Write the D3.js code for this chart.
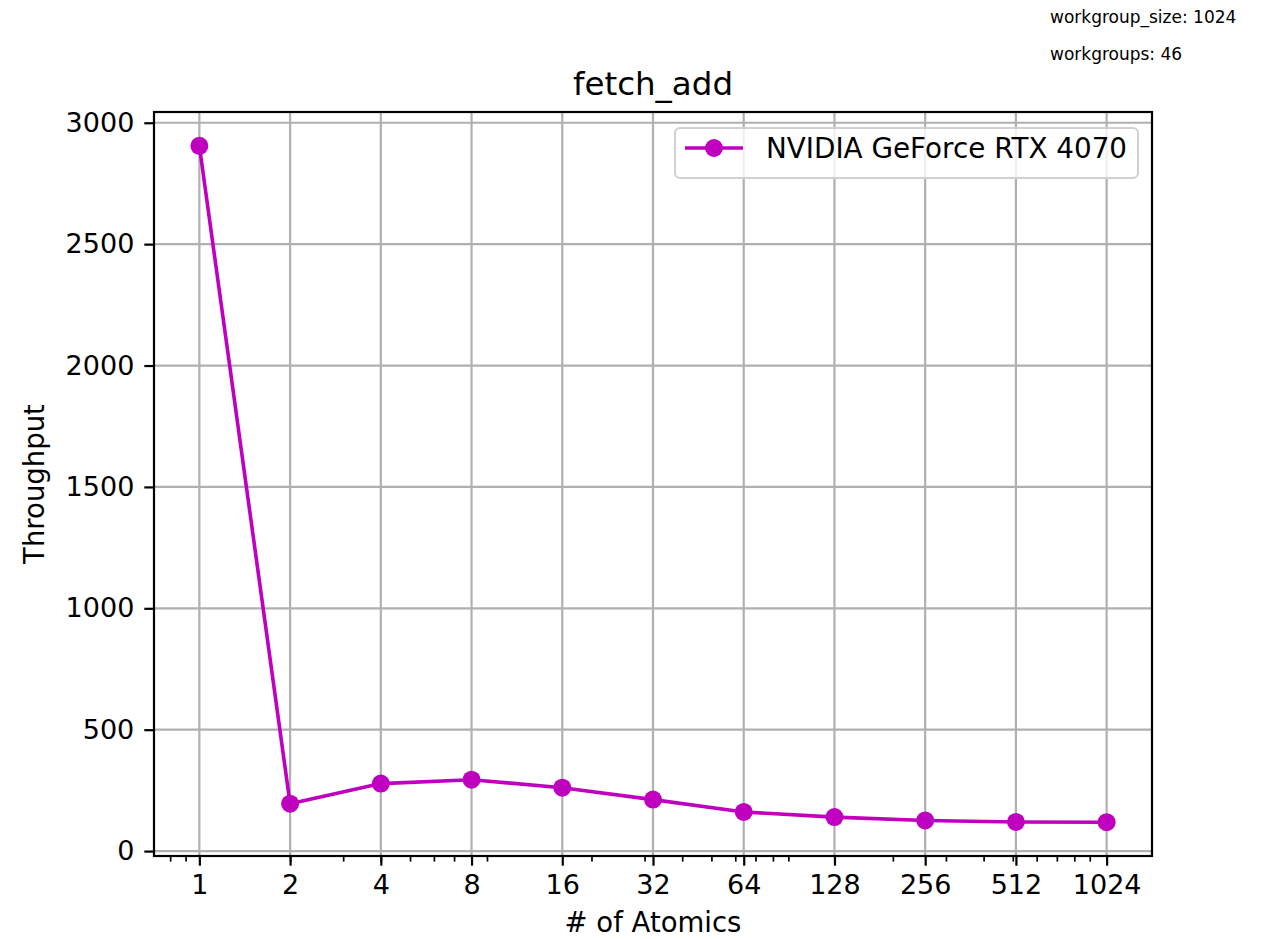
<!DOCTYPE html>
<html>
<head>
<meta charset="utf-8">
<script src="https://cdn.jsdelivr.net/npm/d3@7"></script>
<style>
  html, body { margin: 0; padding: 0; background: #ffffff; }
  svg { display: block; font-family: "DejaVu Sans", sans-serif; }
</style>
</head>
<body>
<svg id="chart" width="1286" height="939"></svg>
<script>
// Throughput of fetch_add vs. number of atomics
const atomics = [1, 2, 4, 8, 16, 32, 64, 128, 256, 512, 1024];
const throughput = [2905, 195, 278, 294, 261, 212, 161, 140, 126, 120, 119];
const yTicks = [0, 500, 1000, 1500, 2000, 2500, 3000];
const xTickLabels = ["1", "2", "4", "8", "16", "32", "64", "128", "256", "512", "1024"];
const seriesName = "NVIDIA GeForce RTX 4070";
const chartTitle = "fetch_add";
const xTitle = "# of Atomics";
const yTitle = "Throughput";
const infoLines = ["workgroup_size: 1024", "workgroups: 46"];

const color = "#bf00bf";
const frame = { left: 154, right: 1152, top: 112, bottom: 856 };
const markerR = 9;

const svg = d3.select("#chart");

// log2 x scale with 5% padding (in log space) on both ends
const lx0 = Math.log2(d3.min(atomics)), lx1 = Math.log2(d3.max(atomics));
const lpad = (lx1 - lx0) * 0.05;
const x = d3.scaleLog().base(2)
  .domain([Math.pow(2, lx0 - lpad), Math.pow(2, lx1 + lpad)])
  .range([frame.left, frame.right]);

// linear y scale with 5% padding
const yMin = d3.min(throughput), yMax = d3.max(throughput);
const ypad = (yMax - yMin) * 0.05;
const y = d3.scaleLinear()
  .domain([yMin - ypad, yMax + ypad])
  .range([frame.bottom, frame.top]);

// minor ticks at 2..9 x 10^k inside the domain
const [d0, d1] = x.domain();
const minorTicks = [];
for (let k = -1; k <= 3; k++) {
  for (let m = 2; m <= 9; m++) {
    const v = m * Math.pow(10, k);
    if (v >= d0 && v <= d1) minorTicks.push(v);
  }
}

// grid
const grid = svg.append("g").attr("stroke", "#b0b0b0").attr("stroke-width", 2.2);
grid.selectAll("line.gx").data(atomics).join("line")
  .attr("x1", d => x(d)).attr("x2", d => x(d))
  .attr("y1", frame.top).attr("y2", frame.bottom);
grid.selectAll("line.gy").data(yTicks).join("line")
  .attr("x1", frame.left).attr("x2", frame.right)
  .attr("y1", d => y(d)).attr("y2", d => y(d));

// x axis (bottom) with major and minor ticks
const xAxis = d3.axisBottom(x)
  .tickValues(atomics)
  .tickFormat((d, i) => xTickLabels[i])
  .tickSize(9.7).tickPadding(9);
const gx = svg.append("g").attr("transform", `translate(0,${frame.bottom})`).call(xAxis);
gx.select(".domain").remove();
gx.selectAll(".tick line").attr("stroke", "#000").attr("stroke-width", 2.2);
gx.selectAll(".tick text")
  .attr("font-size", 27).attr("fill", "#000").attr("font-family", "DejaVu Sans");

const xMinor = d3.axisBottom(x).tickValues(minorTicks).tickFormat("").tickSize(5.6);
const gxm = svg.append("g").attr("transform", `translate(0,${frame.bottom})`).call(xMinor);
gxm.select(".domain").remove();
gxm.selectAll(".tick line").attr("stroke", "#000").attr("stroke-width", 1.7);

// y axis (left)
const yAxis = d3.axisLeft(y).tickValues(yTicks).tickFormat(d3.format("d"))
  .tickSize(9.7).tickPadding(10);
const gy = svg.append("g").attr("transform", `translate(${frame.left},0)`).call(yAxis);
gy.select(".domain").remove();
gy.selectAll(".tick line").attr("stroke", "#000").attr("stroke-width", 2.2);
gy.selectAll(".tick text")
  .attr("font-size", 27).attr("fill", "#000").attr("font-family", "DejaVu Sans");

// frame
svg.append("rect")
  .attr("x", frame.left).attr("y", frame.top)
  .attr("width", frame.right - frame.left).attr("height", frame.bottom - frame.top)
  .attr("fill", "none").attr("stroke", "#000").attr("stroke-width", 2.2);

// series line and markers
const pts = atomics.map((a, i) => [a, throughput[i]]);
svg.append("path")
  .datum(pts)
  .attr("d", d3.line().x(d => x(d[0])).y(d => y(d[1])))
  .attr("fill", "none").attr("stroke", color).attr("stroke-width", 3.6)
  .attr("stroke-linejoin", "round");
svg.append("g").selectAll("circle").data(pts).join("circle")
  .attr("cx", d => x(d[0])).attr("cy", d => y(d[1]))
  .attr("r", markerR).attr("fill", color);

// titles
svg.append("text").attr("x", (frame.left + frame.right) / 2).attr("y", 95)
  .attr("text-anchor", "middle").attr("font-size", 32.5).attr("fill", "#000")
  .text(chartTitle);
svg.append("text").attr("x", (frame.left + frame.right) / 2).attr("y", 932)
  .attr("text-anchor", "middle").attr("font-size", 27.5).attr("fill", "#000")
  .text(xTitle);
svg.append("text")
  .attr("transform", `translate(44,${(frame.top + frame.bottom) / 2}) rotate(-90)`)
  .attr("text-anchor", "middle").attr("font-size", 27.5).attr("fill", "#000")
  .text(yTitle);

// legend
const lg = svg.append("g");
lg.append("rect").attr("x", 675).attr("y", 128).attr("width", 463).attr("height", 50)
  .attr("rx", 5).attr("fill", "rgba(255,255,255,0.8)")
  .attr("stroke", "#d0d0d0").attr("stroke-width", 2);
lg.append("line").attr("x1", 685).attr("x2", 743).attr("y1", 148).attr("y2", 148)
  .attr("stroke", color).attr("stroke-width", 3.6);
lg.append("circle").attr("cx", 714).attr("cy", 148).attr("r", markerR).attr("fill", color);
lg.append("text").attr("x", 766).attr("y", 157.5).attr("font-size", 27.8).attr("fill", "#000")
  .text(seriesName);

// run info in the top-right corner
svg.append("g").selectAll("text").data(infoLines).join("text")
  .attr("x", 1050).attr("y", (d, i) => 23 + i * 37)
  .attr("font-size", 17).attr("fill", "#000")
  .text(d => d);
</script>
</body>
</html>
